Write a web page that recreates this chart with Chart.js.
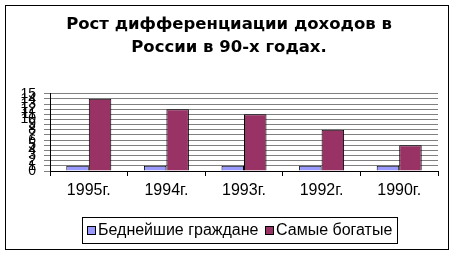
<!DOCTYPE html>
<html>
<head>
<meta charset="utf-8">
<script src="https://cdn.jsdelivr.net/npm/chart.js@4"></script>
<style>
  body { margin: 0; background: #fff; }
  #wrap { width: 455px; height: 255px; }
</style>
</head>
<body>
<div id="wrap"><canvas id="myChart" width="455" height="255"></canvas></div>
<script>
const ctx = document.getElementById('myChart');

const years = ['1995г.', '1994г.', '1993г.', '1992г.', '1990г.'];
const poorest = [1, 1, 1, 1, 1];
const richest = [14, 12, 11, 8, 5];
const titleLines = ['Рост дифференциации доходов в', 'России в 90-х годах.'];

const FONT = '"Liberation Sans", Arial, sans-serif';
const TITLE_FONT = '"DejaVu Sans", sans-serif';

// рамка вокруг всего и легенда в рамке
const framePlugin = {
  id: 'frame',
  afterDraw(chart) {
    const c = chart.ctx;
    c.save();
    c.strokeStyle = '#000';
    c.lineWidth = 1;
    c.strokeRect(5.5, 5.5, 443, 244);

    // легенда
    c.strokeRect(82.5, 217.5, 315, 26);
    c.font = '16px ' + FONT;
    c.textBaseline = 'middle';
    const xs = [87, 265];
    chart.data.datasets.forEach((ds, i) => {
      c.fillStyle = ds.backgroundColor;
      c.fillRect(xs[i], 226, 9, 9);
      c.strokeStyle = '#000';
      c.strokeRect(xs[i] + 0.5, 226.5, 8, 8);
      c.fillStyle = '#000';
      c.fillText(ds.label, xs[i] + 11, 231);
    });
    c.restore();
  }
};

new Chart(ctx, {
  type: 'bar',
  data: {
    labels: years,
    datasets: [
      {
        label: 'Беднейшие граждане',
        data: poorest,
        backgroundColor: '#9999ff',
        borderColor: '#000',
        borderWidth: 1
      },
      {
        label: 'Самые богатые',
        data: richest,
        backgroundColor: '#993366',
        borderColor: '#000',
        borderWidth: 1
      }
    ]
  },
  options: {
    responsive: false,
    animation: false,
    layout: { padding: { left: 20, right: 17, top: 5, bottom: 54 } },
    datasets: {
      bar: { categoryPercentage: 0.58, barPercentage: 1.0 }
    },
    plugins: {
      legend: { display: false },
      tooltip: { enabled: false },
      title: {
        display: true,
        text: titleLines,
        color: '#000',
        font: { family: TITLE_FONT, size: 16.5, weight: 'bold', lineHeight: 1.4 },
        padding: { top: 8.5, bottom: 34 }
      }
    },
    scales: {
      x: {
        grid: { display: true, drawOnChartArea: false, offset: true, tickLength: 5, color: '#000' },
        border: { color: '#000' },
        ticks: { color: '#000', font: { family: FONT, size: 16 }, padding: 5, maxRotation: 0 },
        afterFit(scale) { scale.height = 30; }
      },
      y: {
        min: 0,
        max: 15,
        grid: { color: '#808080', tickLength: 6 },
        border: { color: '#000' },
        ticks: { stepSize: 1, autoSkip: false, color: '#000', font: { family: FONT, size: 14 }, padding: 8 },
        afterFit(scale) { scale.width = 30; }
      }
    }
  },
  plugins: [framePlugin]
});
</script>
</body>
</html>
